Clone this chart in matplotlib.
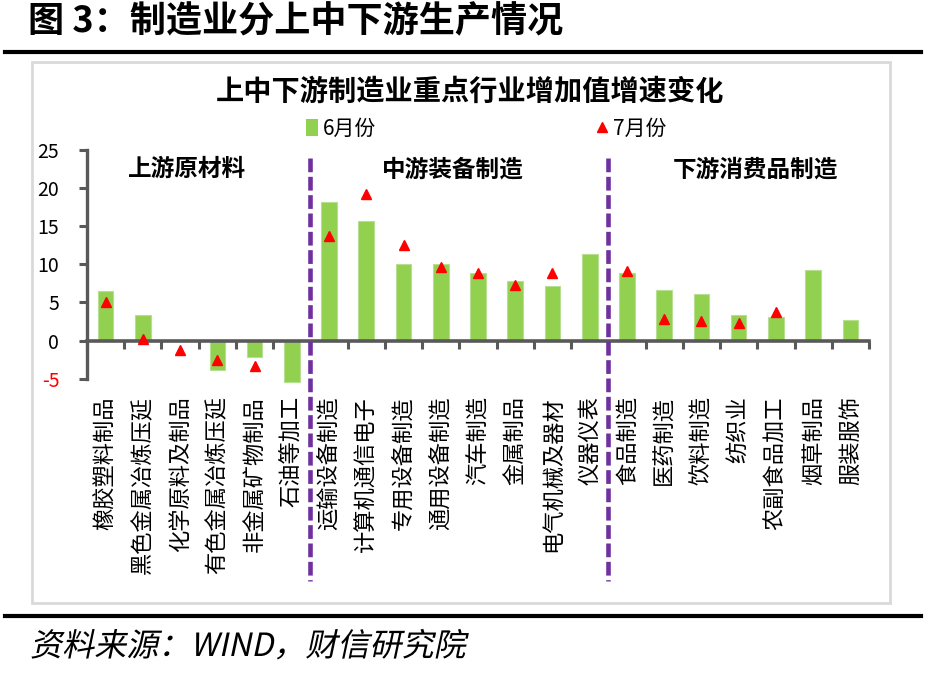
import numpy as np
import matplotlib
matplotlib.use('Agg')
import matplotlib.pyplot as plt
from matplotlib.patches import Patch, Rectangle, PathPatch
from matplotlib.lines import Line2D
from matplotlib.textpath import TextPath
from matplotlib.font_manager import FontProperties
from matplotlib.transforms import Affine2D, IdentityTransform

plt.rcParams['font.family'] = ['Noto Sans CJK SC', 'DejaVu Sans']

# data
categories = ['橡胶塑料制品', '黑色金属冶炼压延', '化学原料及制品', '有色金属冶炼压延',
              '非金属矿物制品', '石油等加工',
              '运输设备制造', '计算机通信电子', '专用设备制造', '通用设备制造',
              '汽车制造', '金属制品', '电气机械及器材', '仪器仪表',
              '食品制造', '医药制造', '饮料制造', '纺织业', '农副食品加工',
              '烟草制品', '服装服饰']
june = [6.5, 3.3, 0.0, -3.8, -2.2, -5.4,
        18.2, 15.7, 10.1, 10.0, 8.8, 7.8, 7.1, 11.4,
        8.9, 6.7, 6.1, 3.4, 3.1, 9.3, 2.7]
july = [5.0, 0.2, -1.2, -2.5, -3.3, np.nan,
        13.7, 19.2, 12.6, 9.6, 8.8, 7.3, 8.8, np.nan,
        9.1, 2.8, 2.6, 2.3, 3.8, np.nan, np.nan]
groups = ['上游原材料', '中游装备制造', '下游消费品制造']
yticks = [-5, 0, 5, 10, 15, 20, 25]

W, H = 926, 675
fig = plt.figure(figsize=(W / 100, H / 100), dpi=100)
ax = fig.add_axes([87 / W, 1 - 378.7 / H, 782 / W, 228.7 / H])

x = np.arange(len(categories))
bars = ax.bar(x, june, width=0.42, color='#92D050', edgecolor='#B8DE92',
              linewidth=0.8, zorder=2, clip_on=False)
tri, = ax.plot(x, july, ls='none', marker='^', color='#FF0000', markersize=7,
               zorder=3)

ax.set_xlim(-0.5, len(categories) - 0.5)
ax.set_ylim(-5, 25)

axis_c = '#595959'
for s in ['top', 'right']:
    ax.spines[s].set_visible(False)
ax.spines['bottom'].set_position(('data', 0))
ax.spines['bottom'].set_color(axis_c)
ax.spines['bottom'].set_linewidth(2.6)
ax.spines['left'].set_color(axis_c)
ax.spines['left'].set_linewidth(2.4)

ax.set_yticks(yticks)
ax.set_yticklabels([str(v) for v in yticks])
ax.tick_params(axis='y', length=6, width=2.2, color=axis_c, pad=14, labelsize=14)
for lab, v in zip(ax.get_yticklabels(), yticks):
    lab.set_color('#FF0000' if v < 0 else 'black')

ax.set_xticks(np.arange(-0.5, len(categories), 1))
ax.set_xticklabels([''] * (len(categories) + 1))
ax.tick_params(axis='x', which='major', length=6, width=2.2, color=axis_c)
ax.set_xticks(x, minor=True)
ax.set_xticklabels(categories, minor=True, rotation=90, fontsize=16)
ax.tick_params(axis='x', which='minor', length=0, pad=40)

# group separators and group names
for xs in [5.5, 13.5]:
    ax.plot([xs, xs], [24, -31.5], color='#7030A0', lw=3.3, dashes=(3, 1),
            clip_on=False, zorder=4)
for gx, name in zip([2.2, 9.33, 17.44], groups):
    ax.text(gx, 22.5, name, ha='center', va='center', fontsize=17, fontweight='bold')

# legend
h_bar = Patch(facecolor='#92D050', edgecolor='none')
fig.legend([h_bar, tri], ['6月份', '7月份'], loc='center',
           bbox_to_anchor=(486 / W, 1 - 129 / H), ncol=2,
           frameon=False, fontsize=15, handlelength=0.6, handleheight=0.9,
           handletextpad=0.25, columnspacing=10.5)

# chart frame, title, header rules
fig.add_artist(Rectangle((32 / W, 1 - 603 / H), 858 / W, 541 / H, fill=False,
                         edgecolor='#D9D9D9', lw=2, transform=fig.transFigure))
fig.text(470 / W, 1 - 92 / H, '上中下游制造业重点行业增加值增速变化', ha='center',
         va='center', fontsize=20.3, fontweight='bold')
fig.text(28 / W, 1 - 22 / H, '图 3：制造业分上中下游生产情况', ha='left', va='center',
         fontsize=26, fontweight='bold')
fig.add_artist(Line2D([5 / W, 921 / W], [1 - 51.5 / H] * 2, color='black', lw=3,
                      transform=fig.transFigure))
fig.add_artist(Line2D([5 / W, 921 / W], [1 - 616 / H] * 2, color='black', lw=3,
                      transform=fig.transFigure))

# italic source line (CJK font has no italic, so skew the glyph outlines)
src = '资料来源：WIND，财信研究院'
tp = TextPath((0, 0), src, size=30, prop=FontProperties(family='Noto Sans CJK SC'))
scale = 433 / tp.get_extents().width
tr = Affine2D().scale(scale).skew_deg(12, 0).translate(30, H - 656) + IdentityTransform()
fig.add_artist(PathPatch(tp, transform=tr, facecolor='black', lw=0))

fig.savefig('out.png', dpi=100)
